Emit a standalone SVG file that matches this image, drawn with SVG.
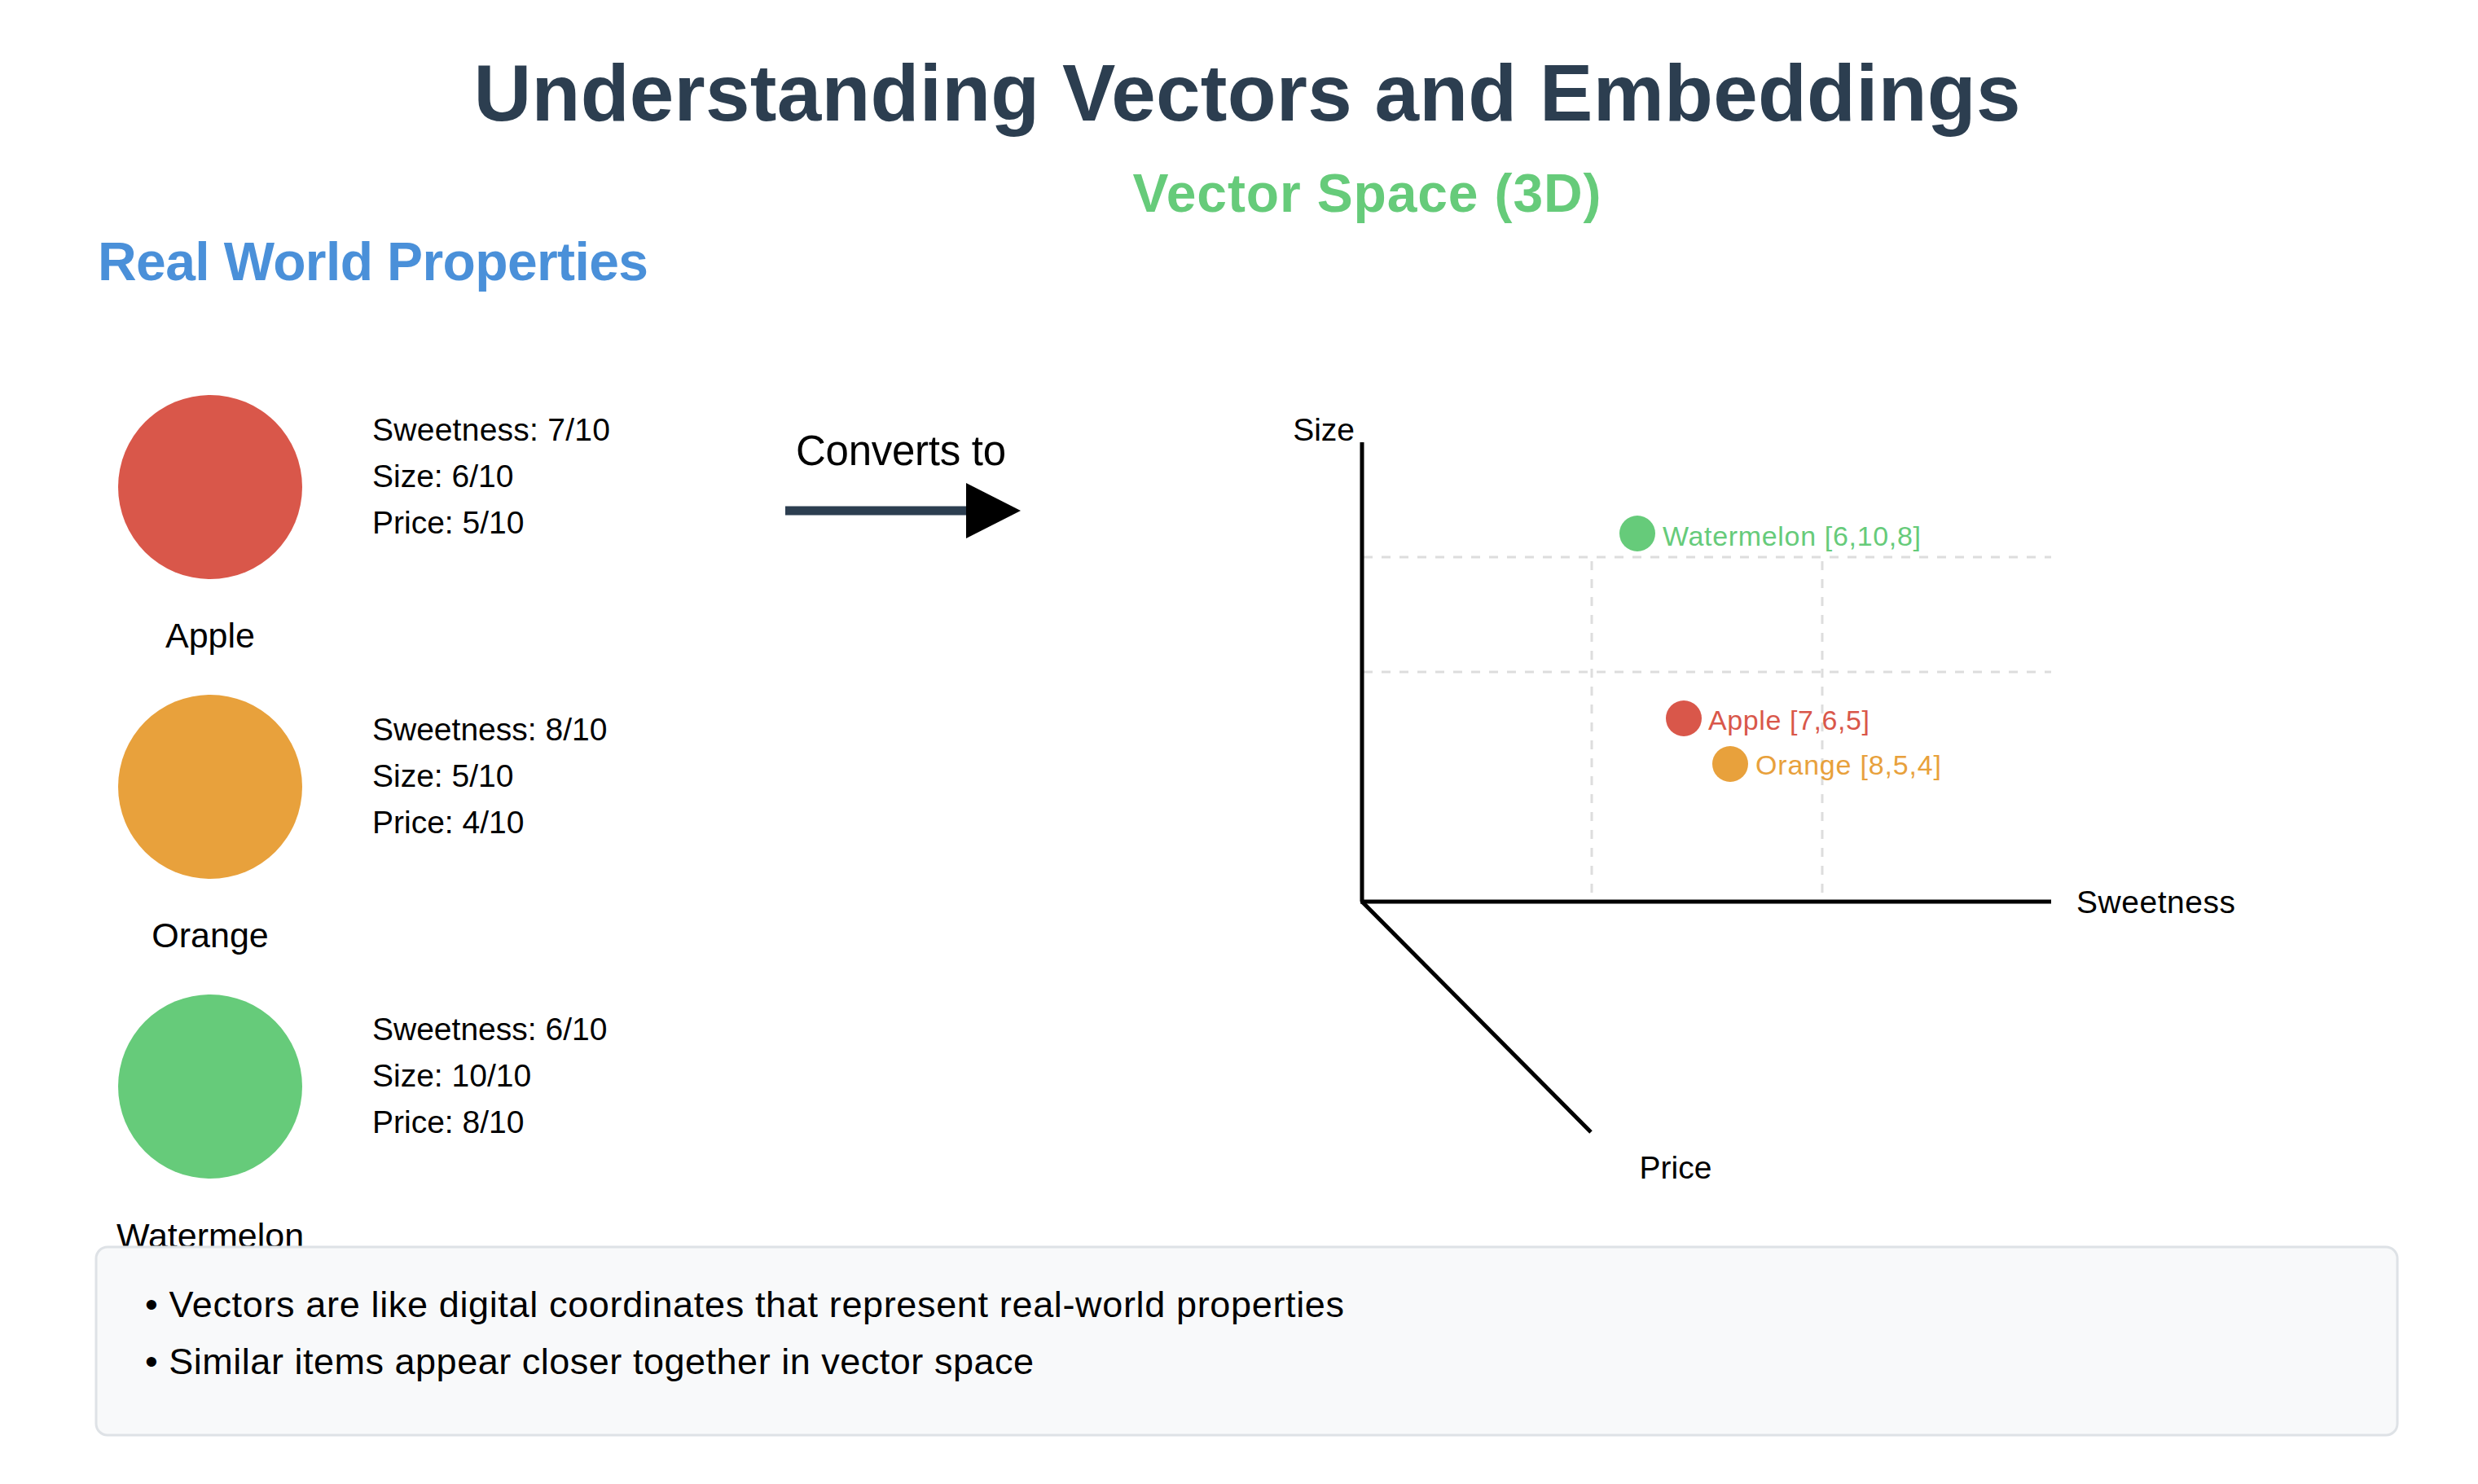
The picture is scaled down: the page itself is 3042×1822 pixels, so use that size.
<svg xmlns="http://www.w3.org/2000/svg" width="3042" height="1822" viewBox="0 0 3042 1822">
  <defs>
    <style>
      text { font-family: "Liberation Sans", Arial, sans-serif; }
      .title { font-size: 98px; font-weight: bold; fill: #2c3e50; }
      .section { font-size: 66px; font-weight: bold; }
      .label { font-size: 43px; fill: #000; }
      .prop { font-size: 39px; fill: #000; }
      .axislbl { font-size: 39px; fill: #000; }
      .pt { font-size: 34px; }
      .axis { stroke: #000; stroke-width: 5; fill: none; }
      .grid { stroke: #dddddd; stroke-width: 3; stroke-dasharray: 11 11; fill: none; }
      .note { font-size: 45px; fill: #000; }
    </style>
  </defs>
  <rect width="3042" height="1822" fill="#ffffff"/>

  <g id="title">
    <text class="title" x="1531" y="148" text-anchor="middle" textLength="1899">Understanding Vectors and Embeddings</text>
  </g>
  <g id="vector-space-title">
    <text class="section" x="1678" y="260" text-anchor="middle" fill="#66cb7a" textLength="575">Vector Space (3D)</text>
  </g>
  <g id="real-world-title">
    <text class="section" x="120" y="344" fill="#4a90d9" textLength="676">Real World Properties</text>
  </g>

  <g id="apple">
    <circle cx="258" cy="598" r="113" fill="#d9574a"/>
    <text class="label" x="258" y="795" text-anchor="middle">Apple</text>
    <text class="prop" x="457" y="541" textLength="292">Sweetness: 7/10</text>
    <text class="prop" x="457" y="598">Size: 6/10</text>
    <text class="prop" x="457" y="655">Price: 5/10</text>
  </g>
  <g id="orange">
    <circle cx="258" cy="966" r="113" fill="#e8a13c"/>
    <text class="label" x="258" y="1163" text-anchor="middle">Orange</text>
    <text class="prop" x="457" y="909">Sweetness: 8/10</text>
    <text class="prop" x="457" y="966">Size: 5/10</text>
    <text class="prop" x="457" y="1023">Price: 4/10</text>
  </g>
  <g id="watermelon">
    <circle cx="258" cy="1334" r="113" fill="#66cb7a"/>
    <text class="label" x="258" y="1532" text-anchor="middle">Watermelon</text>
    <text class="prop" x="457" y="1277">Sweetness: 6/10</text>
    <text class="prop" x="457" y="1334">Size: 10/10</text>
    <text class="prop" x="457" y="1391">Price: 8/10</text>
  </g>

  <g id="connectors">
    <text x="1106" y="571" text-anchor="middle" font-size="51" fill="#000" textLength="258">Converts to</text>
    <line x1="964" y1="627" x2="1200" y2="627" stroke="#2c3e50" stroke-width="11"/>
    <polygon points="1186,593 1253,627 1186,661" fill="#000"/>
  </g>

  <g id="vector-space">
    <g id="grid">
      <line class="grid" x1="1674" y1="684" x2="2518" y2="684"/>
      <line class="grid" x1="1674" y1="825" x2="2518" y2="825"/>
      <line class="grid" x1="1954" y1="689" x2="1954" y2="1107"/>
      <line class="grid" x1="2237" y1="689" x2="2237" y2="1107"/>
    </g>
    <g id="axes">
      <line class="axis" x1="1672" y1="543" x2="1672" y2="1107"/>
      <line class="axis" x1="1670" y1="1107" x2="2518" y2="1107"/>
      <line class="axis" x1="1672" y1="1107" x2="1953" y2="1390"/>
      <text class="axislbl" x="1663" y="541" text-anchor="end">Size</text>
      <text class="axislbl" x="2549" y="1121" textLength="195">Sweetness</text>
      <text class="axislbl" x="2057" y="1447" text-anchor="middle">Price</text>
    </g>
    <g id="point-watermelon">
      <circle cx="2010" cy="655" r="22" fill="#66cb7a"/>
      <text class="pt" x="2041" y="670" fill="#66cb7a" textLength="317">Watermelon [6,10,8]</text>
    </g>
    <g id="point-apple">
      <circle cx="2067" cy="882" r="22" fill="#d9574a"/>
      <text class="pt" x="2097" y="896" fill="#d9574a" textLength="198">Apple [7,6,5]</text>
    </g>
    <g id="point-orange">
      <circle cx="2124" cy="938" r="22" fill="#e8a13c"/>
      <text class="pt" x="2155" y="951" fill="#e8a13c" textLength="228">Orange [8,5,4]</text>
    </g>
  </g>

  <g id="notes">
    <rect x="118" y="1531" width="2825" height="231" rx="14" fill="#f8f9fa" stroke="#dee2e6" stroke-width="3"/>
    <text class="note" x="178" y="1617" textLength="1472">• Vectors are like digital coordinates that represent real-world properties</text>
    <text class="note" x="178" y="1687" textLength="1091">• Similar items appear closer together in vector space</text>
  </g>
</svg>
